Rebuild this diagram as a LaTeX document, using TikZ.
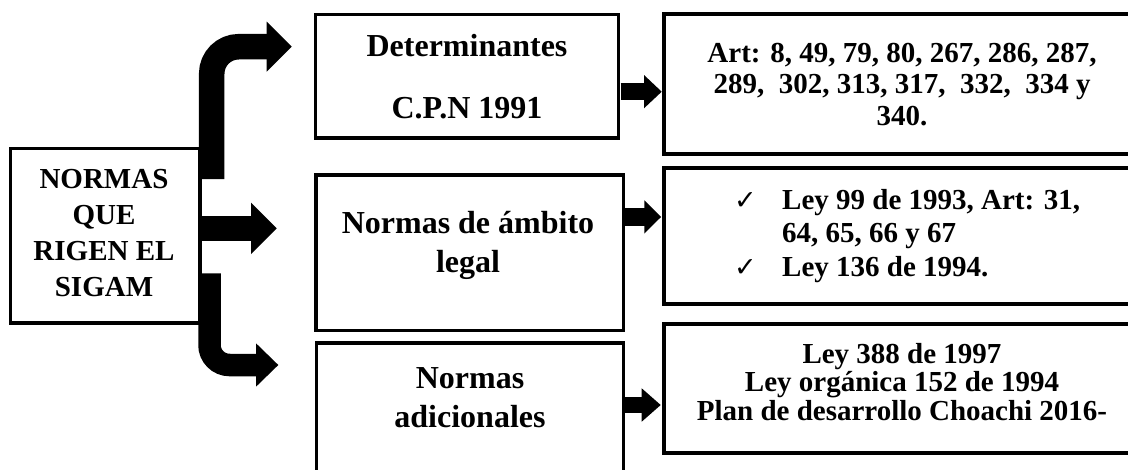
\documentclass[tikz,border=0pt]{standalone}
\usepackage{fontspec}
\setmainfont{Liberation Serif}
\newfontfamily\symfont{DejaVu Sans}
\begin{document}
\begin{tikzpicture}[x=1pt,y=-1pt,
  box/.style={draw=black, line width=3.5pt, fill=white, inner sep=0pt, outer sep=0pt, anchor=north west},
  rbox/.style={box, line width=4pt},
  txt/.style={inner sep=0pt, anchor=base, font=\bfseries},
  shaft/.style={draw=black, line cap=butt},
  head/.style={fill=black},
  check/.style={inner sep=0pt, anchor=base west, font=\symfont\fontsize{27}{27}\selectfont}
]
\useasboundingbox (0,0) rectangle (1128,469);
\fill[white] (0,0) rectangle (1128,469);
\clip (0,0) rectangle (1128,469);

% boxes
\node[box, minimum width=189.7pt, minimum height=174.7pt] (L) at (10.3,148.3) {};
\node[box, minimum width=303.4pt, minimum height=123.3pt] (M1) at (315.3,14.7) {};
\node[box, minimum width=307.3pt, minimum height=155.3pt] (M2) at (316,175) {};
\node[box, minimum width=307pt, minimum height=147pt] (M3) at (316.7,343) {};
\node[rbox, minimum width=486pt, minimum height=140pt] (R1) at (664,14) {};
\node[rbox, minimum width=486pt, minimum height=136pt] (R2) at (664,168) {};
\node[rbox, minimum width=486pt, minimum height=129pt] (R3) at (664,324) {};

% big bent arrows from left box
\coordinate (b1s) at (211.7,179);
\coordinate (b1e) at (267.5,46.7);
\draw[shaft, line width=25.5pt, rounded corners=27pt] (b1s) |- (b1e);
\fill[head] (266.7,21.7) -- (291.7,46.7) -- (266.7,71.7) -- cycle;

\coordinate (b2s) at (200,228.3);
\coordinate (b2e) at (251.8,228.3);
\draw[shaft, line width=24.7pt] (b2s) -- (b2e);
\fill[head] (251,202.7) -- (276.7,228.3) -- (251,254) -- cycle;

\coordinate (b3s) at (209.5,273.3);
\coordinate (b3e) at (256.8,365);
\draw[shaft, line width=22.5pt, rounded corners=20pt] (b3s) |- (b3e);
\fill[head] (256,343.3) -- (278.3,365) -- (256,386.7) -- cycle;

% small arrows
\coordinate (s1s) at (620.5,91.7);
\coordinate (s1e) at (644.8,91.7);
\draw[shaft, line width=16.7pt] (s1s) -- (s1e);
\fill[head] (644,75) -- (661.7,91.7) -- (644,108.3) -- cycle;

\coordinate (s2s) at (625,217.2);
\coordinate (s2e) at (645,217.2);
\draw[shaft, line width=18.3pt] (s2s) -- (s2e);
\fill[head] (644.3,200.3) -- (661,217) -- (644.3,233.6) -- cycle;

\coordinate (s3s) at (625.4,405);
\coordinate (s3e) at (642.5,405);
\draw[shaft, line width=16.7pt] (s3s) -- (s3e);
\fill[head] (641.7,388.3) -- (660.7,405) -- (641.7,421.7) -- cycle;

% texts
\node[txt] (Lt) at (104,188) {\fontsize{29}{36.3}\selectfont\begin{tabular}[t]{@{}c@{}}NORMAS\\QUE\\RIGEN EL\\SIGAM\end{tabular}};

\node[txt] (M1t) at (467,56) {\fontsize{32}{62.3}\selectfont\begin{tabular}[t]{@{}c@{}}Determinantes\\C.P.N 1991\end{tabular}};
\node[txt] (M2t) at (468,233) {\fontsize{32}{39}\selectfont\begin{tabular}[t]{@{}c@{}}Normas de ámbito\\legal\end{tabular}};
\node[txt] (M3t) at (470,388.3) {\fontsize{32}{39.3}\selectfont\begin{tabular}[t]{@{}c@{}}Normas\\adicionales\end{tabular}};

\node[txt] (R1t) at (902,62.7) {\fontsize{29}{31.2}\selectfont\begin{tabular}[t]{@{}c@{}}Art: 8, 49, 79, 80, 267, 286, 287,\\289,\ \ 302, 313, 317,\ \ 332,\ \ 334 y\\340.\end{tabular}};

\node[txt, anchor=base west] (R2t) at (782,209.3) {\fontsize{29}{33.4}\selectfont\begin{tabular}[t]{@{}l@{}}Ley 99 de 1993, Art: 31,\\64, 65, 66 y 67\\Ley 136 de 1994.\end{tabular}};
\node[check] (ck1) at (734,209.3) {✓};
\node[check] (ck2) at (734,276) {✓};

\node[txt] (R3t) at (902,363.3) {\fontsize{29}{28.4}\selectfont\begin{tabular}[t]{@{}c@{}}Ley 388 de 1997\\Ley orgánica 152 de 1994\\Plan de desarrollo Choachi 2016-\end{tabular}};
\end{tikzpicture}
\end{document}
